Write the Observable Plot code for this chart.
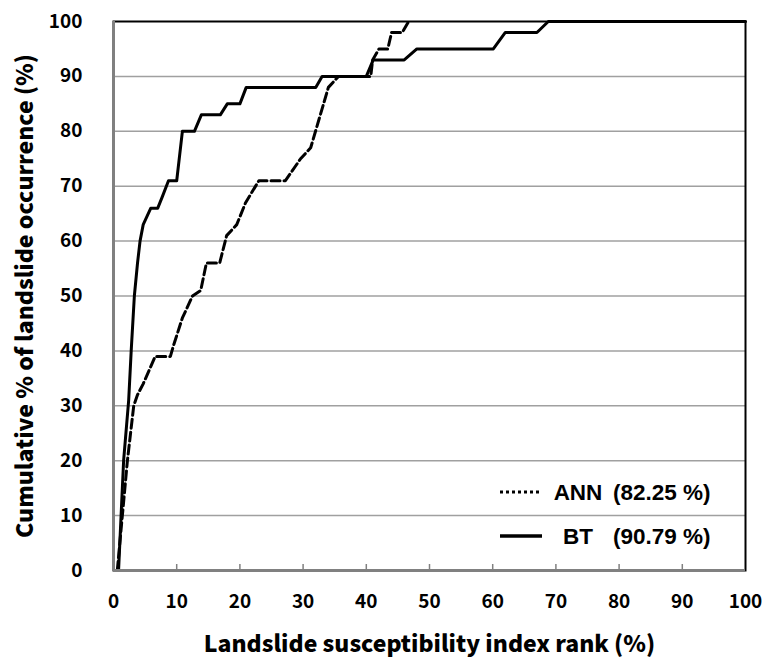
<!DOCTYPE html>
<html><head><meta charset="utf-8">
<script src="https://cdn.jsdelivr.net/npm/d3@7"></script>
<script src="https://cdn.jsdelivr.net/npm/@observablehq/plot@0.6"></script>
<style>body{margin:0;background:#fff}</style>
</head><body><div id="chart"></div>
<script>
// Data
const btRank = [0.8, 1.2, 1.6, 2.4, 2.8, 3.3, 3.8, 4.2, 4.7, 5.9, 7, 7.7, 8.7, 10, 10.9, 12.8, 13.9, 16.9, 18, 20, 21, 32, 33, 40, 41.1, 46, 48, 60.1, 62, 67, 68.8, 100];
const btCum  = [0,   10,  20,  31,  40,  50,  56,  60,  63,  66,  66, 68,  71,  71, 80,   80,   83,   83,   85, 85, 88, 88, 90, 90, 93,   93, 95, 95,   98, 98, 100,  100];
const annRank = [0.6, 1.4, 2.2, 3.2, 3.8, 4.7, 6.6, 9, 9.5, 10.9, 12.5, 13.8, 14.7, 16.8, 17.9, 19.5, 20.9, 23, 27.2, 29, 29.6, 31.2, 34, 35.6, 40.7, 41, 42, 43.4, 44, 45.7, 46.7];
const annCum  = [0,   10,  20,  30,  32,  34,  39,  39, 41, 46,   50,   51,   56,   56,   61,   63,   67,   71, 71,   74, 75,   77,   88, 90,   90,   93, 95, 95,   98, 98,   100];
const xTicks = [0, 10, 20, 30, 40, 50, 60, 70, 80, 90, 100];
const yTicks = [0, 10, 20, 30, 40, 50, 60, 70, 80, 90, 100];
const seriesNames = ["ANN", "BT"];
const seriesAUC = ["(82.25 %)", "(90.79 %)"];
const xTitle = "Landslide susceptibility index rank (%)";
const yTitle = "Cumulative % of landslide occurrence (%)";

const bt = btRank.map((x, i) => ({x, y: btCum[i]}));
const ann = annRank.map((x, i) => ({x, y: annCum[i]}));

const chart = Plot.plot({
  width: 766, height: 657,
  marginLeft: 113, marginRight: 21, marginTop: 21, marginBottom: 87,
  style: {fontFamily: "'Noto Sans CJK KR', 'Noto Sans', sans-serif", fontSize: "19px", fontWeight: "bold", color: "#000", background: "#fff"},
  x: {domain: [0, 100]},
  y: {domain: [0, 100]},
  marks: [
    Plot.ruleY(yTicks.filter(d => d > 0 && d < 100), {stroke: "#a0a0a0", strokeWidth: 1.5}),
    Plot.ruleX(xTicks.filter(d => d > 0 && d < 100), {stroke: "#808080", strokeWidth: 1.5, insetTop: 543}),
    Plot.axisX({ticks: xTicks, tickSize: 0, tickPadding: 24, label: xTitle, labelAnchor: "center", labelArrow: "none", labelOffset: 81}),
    Plot.axisY({ticks: yTicks, tickSize: 0, tickPadding: 31, label: yTitle, labelAnchor: "center", labelArrow: "none", labelOffset: 97}),
    Plot.line(ann, {x: "x", y: "y", stroke: "#000", strokeWidth: 3, strokeDasharray: "9,4"}),
    Plot.line(bt, {x: "x", y: "y", stroke: "#000", strokeWidth: 3}),
    Plot.frame({stroke: "#000", strokeWidth: 2}),
    Plot.ruleX([0], {stroke: "#808080", strokeWidth: 3}),
    Plot.ruleY([0], {stroke: "#808080", strokeWidth: 3})
  ]
});
document.getElementById("chart").appendChild(chart);

// Legend (inside the plot, bottom right)
const svg = d3.select(chart);
svg.selectAll("[aria-label='x-axis label'] text, [aria-label='y-axis label'] text")
  .attr("font-size", 23).attr("font-weight", 900);
const leg = svg.append("g")
  .attr("font-family", "'Liberation Sans', Arial, sans-serif")
  .attr("font-weight", "bold").attr("font-size", 22.5).attr("fill", "#000");
const rowsY = [492, 536];
const dashes = ["3,3", null];
seriesNames.forEach((name, i) => {
  const ln = leg.append("line").attr("x1", 500).attr("x2", 542).attr("y1", rowsY[i]).attr("y2", rowsY[i])
    .attr("stroke", "#000").attr("stroke-width", i === 0 ? 3 : 3.5);
  if (dashes[i]) ln.attr("stroke-dasharray", dashes[i]);
  leg.append("text").attr("x", 578).attr("y", rowsY[i] + 8).attr("text-anchor", "middle").text(name);
  leg.append("text").attr("x", 613).attr("y", rowsY[i] + 8).attr("text-anchor", "start").text(seriesAUC[i]);
});
</script>
</body></html>
